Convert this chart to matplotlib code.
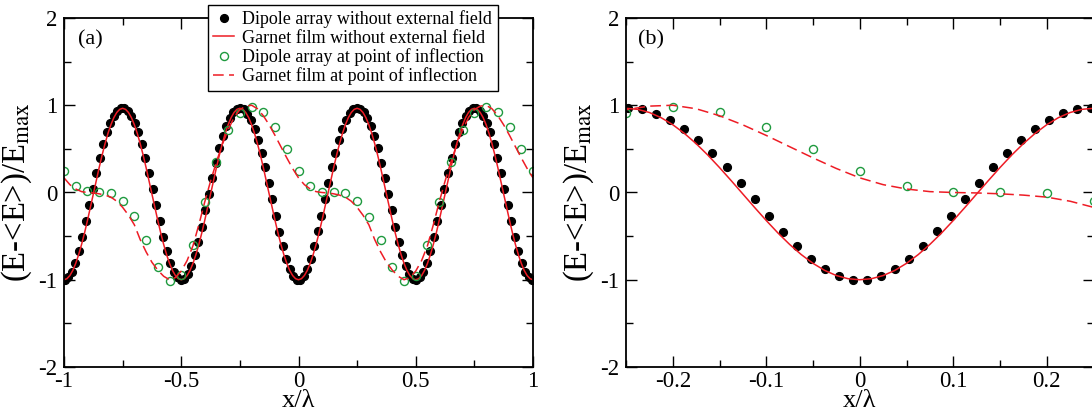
import numpy as np
import matplotlib
matplotlib.use('Agg')
import matplotlib.pyplot as plt
from matplotlib.ticker import MultipleLocator

plt.rcParams['font.family'] = ['Liberation Serif', 'DejaVu Serif']
plt.rcParams['mathtext.fontset'] = 'stix'
plt.rcParams['axes.unicode_minus'] = False

# Dipole array without external field (black dots), spacing 0.015 lambda
dipole_x = np.linspace(-0.9975, 0.9975, 134)
dipole_y = [
    -1.0, -0.972, -0.91, -0.805, -0.665, -0.507, -0.33, -0.14, 0.042, 0.228,
    0.40, 0.553, 0.688, 0.797, 0.88, 0.937, 0.966, 0.966, 0.937, 0.88,
    0.797, 0.688, 0.553, 0.40, 0.228, 0.042, -0.14, -0.33, -0.507, -0.665,
    -0.805, -0.91, -0.972, -1.0, -0.988, -0.937, -0.848, -0.715, -0.563, -0.39,
    -0.205, -0.015, 0.165, 0.343, 0.505, 0.643, 0.763, 0.855, 0.92, 0.959,
    0.97, 0.954, 0.904, 0.827, 0.727, 0.60, 0.454, 0.288, 0.108, -0.077,
    -0.269, -0.45, -0.615, -0.757, -0.88, -0.957, -1.0, -1.0, -0.96, -0.877,
    -0.761, -0.615, -0.445, -0.269, -0.077, 0.108, 0.288, 0.454, 0.60, 0.731,
    0.83, 0.908, 0.954, 0.969,
    0.959, 0.92, 0.855, 0.763, 0.643, 0.505, 0.343, 0.165, -0.015, -0.205,
    -0.39, -0.563, -0.715, -0.848, -0.937, -0.988, -1.0, -0.972, -0.91, -0.805,
    -0.665, -0.507, -0.33, -0.14, 0.042, 0.228, 0.40, 0.553, 0.688, 0.797,
    0.88, 0.937, 0.966, 0.966, 0.937, 0.88, 0.797, 0.688, 0.553, 0.40,
    0.228, 0.042, -0.14, -0.33, -0.507, -0.665, -0.805, -0.91, -0.972, -1.0,
]

# Garnet film without external field (red solid line), step 0.0125 lambda
garnet_x = np.linspace(-1.0, 1.0, 161)
half_up = [-1.0, -0.988, -0.952, -0.893, -0.812, -0.712, -0.595, -0.464, -0.321, -0.171,
           -0.018, 0.136, 0.286, 0.429, 0.560, 0.677, 0.777, 0.858, 0.917, 0.953, 0.965]
half_down = [0.953, 0.917, 0.858, 0.777, 0.677, 0.560, 0.429, 0.286, 0.136, -0.018,
             -0.171, -0.321, -0.464, -0.595, -0.712, -0.812, -0.893, -0.952, -0.988, -1.0]
garnet_y = (half_up + half_down
            + half_up[1:] + half_down
            + half_up[1:] + half_down
            + half_up[1:] + half_down)

# Dipole array at point of inflection (green open circles), step 0.05 lambda
inflect_x = np.linspace(-1.0, 1.0, 41)
inflect_y = [
    0.249, 0.08, 0.02, 0.0, -0.01, -0.095, -0.275, -0.545, -0.85, -1.02,
    -0.95, -0.60, -0.11, 0.355, 0.718, 0.916, 0.978, 0.928, 0.745, 0.50,
    0.246, 0.075, 0.005, 0.0, -0.01, -0.095, -0.28, -0.55, -0.85, -1.02,
    -0.954, -0.607, -0.11, 0.355, 0.718, 0.916, 0.978, 0.92, 0.749, 0.50,
    0.249,
]

# Garnet film at point of inflection (red dashed line), step 0.025 lambda
film_x = np.linspace(-1.0, 1.0, 81)
film_period = [
    0.168, 0.09, 0.04, 0.01, 0.0, -0.005, -0.015, -0.03, -0.053, -0.10,
    -0.17, -0.26, -0.37, -0.54, -0.68, -0.80, -0.89, -0.96, -1.0, -0.975,
    -0.90, -0.78, -0.61, -0.37, -0.11, 0.13, 0.35, 0.55, 0.72, 0.86,
    0.95, 0.99, 1.0, 0.96, 0.88, 0.775, 0.654, 0.525, 0.397, 0.275, 0.168,
]
film_y = film_period + film_period[1:]

RED = '#ee1c25'
GREEN = '#1f9a3f'

fig = plt.figure(figsize=(10.92, 4.11), dpi=100)
W, H = 1092.0, 411.0
ax_a = fig.add_axes([64 / W, 44 / H, 469 / W, 349 / H])
ax_b = fig.add_axes([626 / W, 44 / H, 467.5 / W, 349 / H])


def draw(ax):
    ax.plot(dipole_x, dipole_y, 'o', color='black', ms=5.6, mec='black', lw=0,
            label='Dipole array without external field')
    ax.plot(garnet_x, garnet_y, '-', color=RED, lw=1.1,
            label='Garnet film without external field')
    ax.plot(inflect_x, inflect_y, 'o', mfc='none', mec=GREEN, mew=1.0, ms=5.8, lw=0,
            label='Dipole array at point of inflection')
    ax.plot(film_x, film_y, '--', color=RED, lw=1.1, dashes=(7, 3.5),
            label='Garnet film at point of inflection')
    ax.set_ylim(-2, 2)
    ax.yaxis.set_major_locator(MultipleLocator(1))
    ax.yaxis.set_minor_locator(MultipleLocator(0.5))
    ax.tick_params(which='both', direction='in', top=True, right=True, width=1.0)
    ax.tick_params(which='major', length=8, labelsize=16.5)
    ax.tick_params(which='minor', length=5)
    ax.tick_params(axis='x', pad=3)
    ax.tick_params(axis='y', pad=5)
    for sp in ax.spines.values():
        sp.set_linewidth(1.3)
    ax.set_xlabel('x/λ', fontsize=19, labelpad=-1.5)
    ax.set_ylabel(r'(E-<E>)/E$_{\rm max}$', fontsize=23.5, labelpad=3)


draw(ax_a)
ax_a.set_xlim(-1, 1)
ax_a.xaxis.set_major_locator(MultipleLocator(0.5))
ax_a.xaxis.set_minor_locator(MultipleLocator(0.25))
ax_a.xaxis.set_major_formatter(plt.FuncFormatter(lambda v, p: f'{v:g}'))
ax_a.text(0.03, 0.965, '(a)', transform=ax_a.transAxes, fontsize=16, va='top', ha='left')

draw(ax_b)
ax_b.set_xlim(-0.25, 0.25)
ax_b.xaxis.set_major_locator(MultipleLocator(0.1))
ax_b.xaxis.set_minor_locator(MultipleLocator(0.05))
ax_b.xaxis.set_major_formatter(plt.FuncFormatter(lambda v, p: f'{v:g}'))
ax_b.text(0.026, 0.965, '(b)', transform=ax_b.transAxes, fontsize=16, va='top', ha='left')

leg = ax_a.legend(loc='upper left', bbox_to_anchor=(208 / W, 1 - 5 / H),
                  bbox_transform=fig.transFigure, borderaxespad=0,
                  fontsize=13, frameon=True, fancybox=False, framealpha=1,
                  edgecolor='black', labelspacing=0.08, handlelength=1.15,
                  handletextpad=0.45, borderpad=0.3, numpoints=1)
leg.get_frame().set_linewidth(1.0)

fig.savefig('out.png', dpi=100)
plt.close(fig)
